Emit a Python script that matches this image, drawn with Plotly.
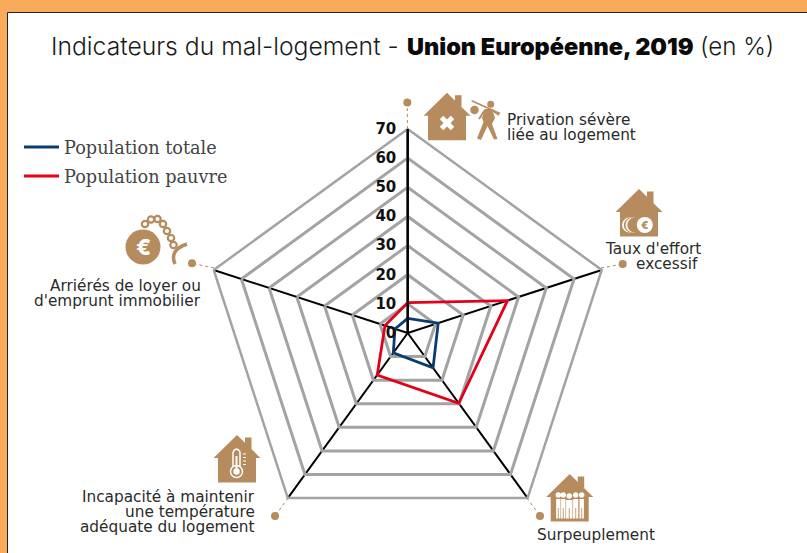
import plotly.graph_objects as go

W, H = 807, 553

# ---- data ----
categories = ["Privation sévère liée au logement", "Taux d'effort excessif", "Surpeuplement",
              "Incapacité à maintenir une température adéquate du logement",
              "Arriérés de loyer ou d'emprunt immobilier"]
population_totale = [5.0, 11.0, 14.8, 8.4, 4.6]
population_pauvre = [10.4, 36.0, 29.8, 17.8, 8.2]
tick_values = [0, 10, 20, 30, 40, 50, 60, 70]
series_names = ["Population totale", "Population pauvre"]
title_plain = "Indicateurs du mal-logement -"
title_bold = "Union Européenne, 2019"
title_tail = "(en %)"

BROWN = "#B68C5F"
ORANGE = "#F9AB5C"
GREY = "#A3A3A3"
BLUE = "#0B3C6F"
RED = "#E2001A"
FONT = "DejaVu Sans"
TITLE_FONT = "Inter"
DARK = "#2a2a2a"

def px(x): return x / W
def py(y): return 1 - y / H

shapes = []
annotations = []

def add_path(d, fill=None, line=None, width=0, dash=None):
    shapes.append(dict(type="path", path=d, xref="paper", yref="paper", layer="above",
                       fillcolor=fill or "rgba(0,0,0,0)",
                       line=dict(color=line or "rgba(0,0,0,0)", width=width, dash=dash or "solid")))

def poly(points, fill):
    d = "M" + " L".join(f"{px(x):.5f},{py(y):.5f}" for x, y in points) + " Z"
    add_path(d, fill=fill)

def seg(x0, y0, x1, y1, color, width, dash="solid"):
    shapes.append(dict(type="line", xref="paper", yref="paper", layer="above",
                       x0=px(x0), y0=py(y0), x1=px(x1), y1=py(y1),
                       line=dict(color=color, width=width, dash=dash)))

def circle(cx, cy, r, fill=None, line=None, width=0):
    shapes.append(dict(type="circle", xref="paper", yref="paper", layer="above",
                       x0=px(cx - r), x1=px(cx + r), y0=py(cy + r), y1=py(cy - r),
                       fillcolor=fill or "rgba(0,0,0,0)",
                       line=dict(color=line or "rgba(0,0,0,0)", width=width)))

def rect(x0, y0, x1, y1, fill):
    poly([(x0, y0), (x1, y0), (x1, y1), (x0, y1)], fill)

def house(ax, ay):
    poly([(ax + 8, ay + 2.5), (ax + 14.5, ay + 2.5), (ax + 14.5, ay + 14), (ax + 8, ay + 14)], BROWN)
    poly([(ax, ay), (ax + 23.5, ay + 23), (ax + 19, ay + 23), (ax + 19, ay + 47.5),
          (ax - 19, ay + 47.5), (ax - 19, ay + 23), (ax - 23.5, ay + 23)], BROWN)

def text(x, y, s, anchor="left", size=15.3, color=DARK, font=FONT, weight=None):
    f = dict(family=font, size=size, color=color)
    if weight: f["weight"] = weight
    annotations.append(dict(x=px(x), y=py(y), xref="paper", yref="paper", text=s, showarrow=False,
                            xanchor=anchor, yanchor="middle", font=f, borderpad=0))

# ---- panel ----
shapes.append(dict(type="rect", xref="paper", yref="paper", layer="below",
                   x0=px(7.5), x1=1.02, y0=-0.02, y1=py(12.5), fillcolor="white",
                   line=dict(color="#222222", width=1)))

# ---- connectors + dots ----
for (x0, y0, x1, y1) in [(407.5, 129, 407.3, 102.6), (601, 268, 622.7, 264), (214, 268, 192, 263.3),
                         (288, 498, 275, 516), (527, 498, 540, 516)]:
    seg(x0, y0, x1, y1, BROWN, 1, "dot")
    circle(x1, y1, 4, BROWN)

# ---- house 1: cross + walker ----
house(447, 92.7)
seg(441.5, 117.5, 452.5, 128.5, "white", 5)
seg(452.5, 117.5, 441.5, 128.5, "white", 5)
circle(490.7, 104.3, 3.5, BROWN)
seg(471.7, 100.7, 500, 113.5, BROWN, 1.5)
circle(474.5, 110, 4.3, BROWN)
poly([(485, 109), (492, 109), (495, 118), (492, 124), (497.5, 139), (494, 139.5), (487.5, 126),
      (481, 140), (477, 138.5), (483.5, 122), (482, 118)], BROWN)
seg(493, 111, 499, 115, BROWN, 2)
seg(485, 110, 479, 119, BROWN, 2)

# ---- house 2: coins ----
house(639, 189)
for cx, fill, r in [(629.5, "white", 7.5), (631.3, BROWN, 7.5), (633, "white", 7.5), (634.8, BROWN, 7.5),
                    (644.8, "white", 8)]:
    circle(cx, 225, r, fill)
text(644.8, 225, "€", "center", 11, BROWN, "Inter", 800)

# ---- house 3: thermometer ----
house(237, 435)
seg(233, 452, 233, 466, "white", 1.5)
seg(240, 452, 240, 466, "white", 1.5)
add_path(f"M{px(233):.5f},{py(452):.5f} Q{px(236.5):.5f},{py(446):.5f} {px(240):.5f},{py(452):.5f}", line="white", width=1.5)
circle(236.5, 471.5, 6, BROWN, "white", 1.5)
circle(236.5, 471.5, 3.2, "white")
seg(236.5, 456, 236.5, 470, "white", 2)
for yy in [454, 457.5, 461, 464.5]:
    seg(243, yy, 246, yy, "white", 1)

# ---- house 4: crowd ----
house(569.7, 474)
for cx, w, top in [(558.3, 2.2, 499), (563.3, 2.2, 499), (569.3, 3.2, 500), (575.7, 2.6, 499), (581.7, 2.2, 499)]:
    circle(cx, 495 if cx != 569.3 else 496, 2.7, "white")
    rect(cx - w, top, cx + w, 518.5, "white")
    seg(cx, 508, cx, 519, BROWN, 0.8)

# ---- ball and chain ----
circle(143, 247, 17.5, BROWN)
text(143, 247, "€", "center", 22, "white", "Inter", 800)
for cx, cy, r in [(145, 224, 3.2), (151, 219.5, 3.2), (157.5, 219, 3.2), (163, 224, 3.2), (167, 231, 3.2),
                  (171, 238, 3.2), (173.5, 245, 3.2)]:
    circle(cx, cy, r, None, BROWN, 2.2)
add_path(f"M{px(175):.5f},{py(264):.5f} Q{px(169):.5f},{py(250):.5f} {px(187):.5f},{py(244):.5f}",
         line=BROWN, width=3.5)

# ---- axis labels ----
text(506, 120, "Privation sévère")
text(506, 135, "liée au logement")
text(702, 249, "Taux d'effort", "right")
text(699, 264, "excessif", "right")
text(202, 286, "Arriérés de loyer ou", "right")
text(202, 301, "d'emprunt immobilier", "right")
text(256, 497, "Incapacité à maintenir", "right")
text(256, 512, "une température", "right")
text(256, 527, "adéquate du logement", "right")
text(536, 535, "Surpeuplement")

# ---- title ----
text(50, 46, title_plain, "left", 24.7, "#1a1a1a", TITLE_FONT, 300)
text(406, 46, title_bold, "left", 23.5, "#0a0a0a", TITLE_FONT, 900)
text(775, 46, title_tail, "right", 24.2, "#1a1a1a", TITLE_FONT, 300)

# ---- chart ----
fig = go.Figure()
for name, values, color in [(series_names[0], population_totale, BLUE),
                            (series_names[1], population_pauvre, RED)]:
    fig.add_trace(go.Scatterpolar(r=values + values[:1], theta=categories + categories[:1],
                                  mode="lines", name=name, legendgroup=name,
                                  line=dict(color=color, width=2.8)))

cx, cy, R = 407.7, 333, 204
fig.update_layout(
    width=W, height=H, margin=dict(l=0, r=0, t=0, b=0), autosize=False,
    paper_bgcolor=ORANGE,
    showlegend=True,
    legend=dict(x=px(19), y=py(129), xanchor="left", yanchor="top", bgcolor="rgba(0,0,0,0)",
                font=dict(family="DejaVu Serif", size=17.7, color="#444444"), itemwidth=35,
                tracegroupgap=3),
    polar=dict(
        domain=dict(x=[px(cx - R), px(cx + R)], y=[py(cy + R), py(cy - R)]),
        bgcolor="rgba(0,0,0,0)",
        gridshape="linear",
        angularaxis=dict(rotation=90, direction="clockwise", showticklabels=False, ticks="",
                         gridcolor="black", gridwidth=2.4, linecolor=GREY, linewidth=2.5,
                         categoryorder="array", categoryarray=categories),
        radialaxis=dict(range=[0, 70], tickvals=tick_values, angle=90, side="counterclockwise",
                        tickangle=90,
                        gridcolor=GREY, gridwidth=2.5, linecolor="black", linewidth=2.4,
                        ticks="outside", ticklen=5, tickcolor="rgba(0,0,0,0)",
                        tickfont=dict(family="DejaVu Sans", size=15, color="#111111", weight=700)),
    ),
    shapes=shapes, annotations=annotations,
)
fig.write_html("out.html", config=dict(displayModeBar=False),
               post_script="document.body.style.margin='0';document.body.style.overflow='hidden';")
